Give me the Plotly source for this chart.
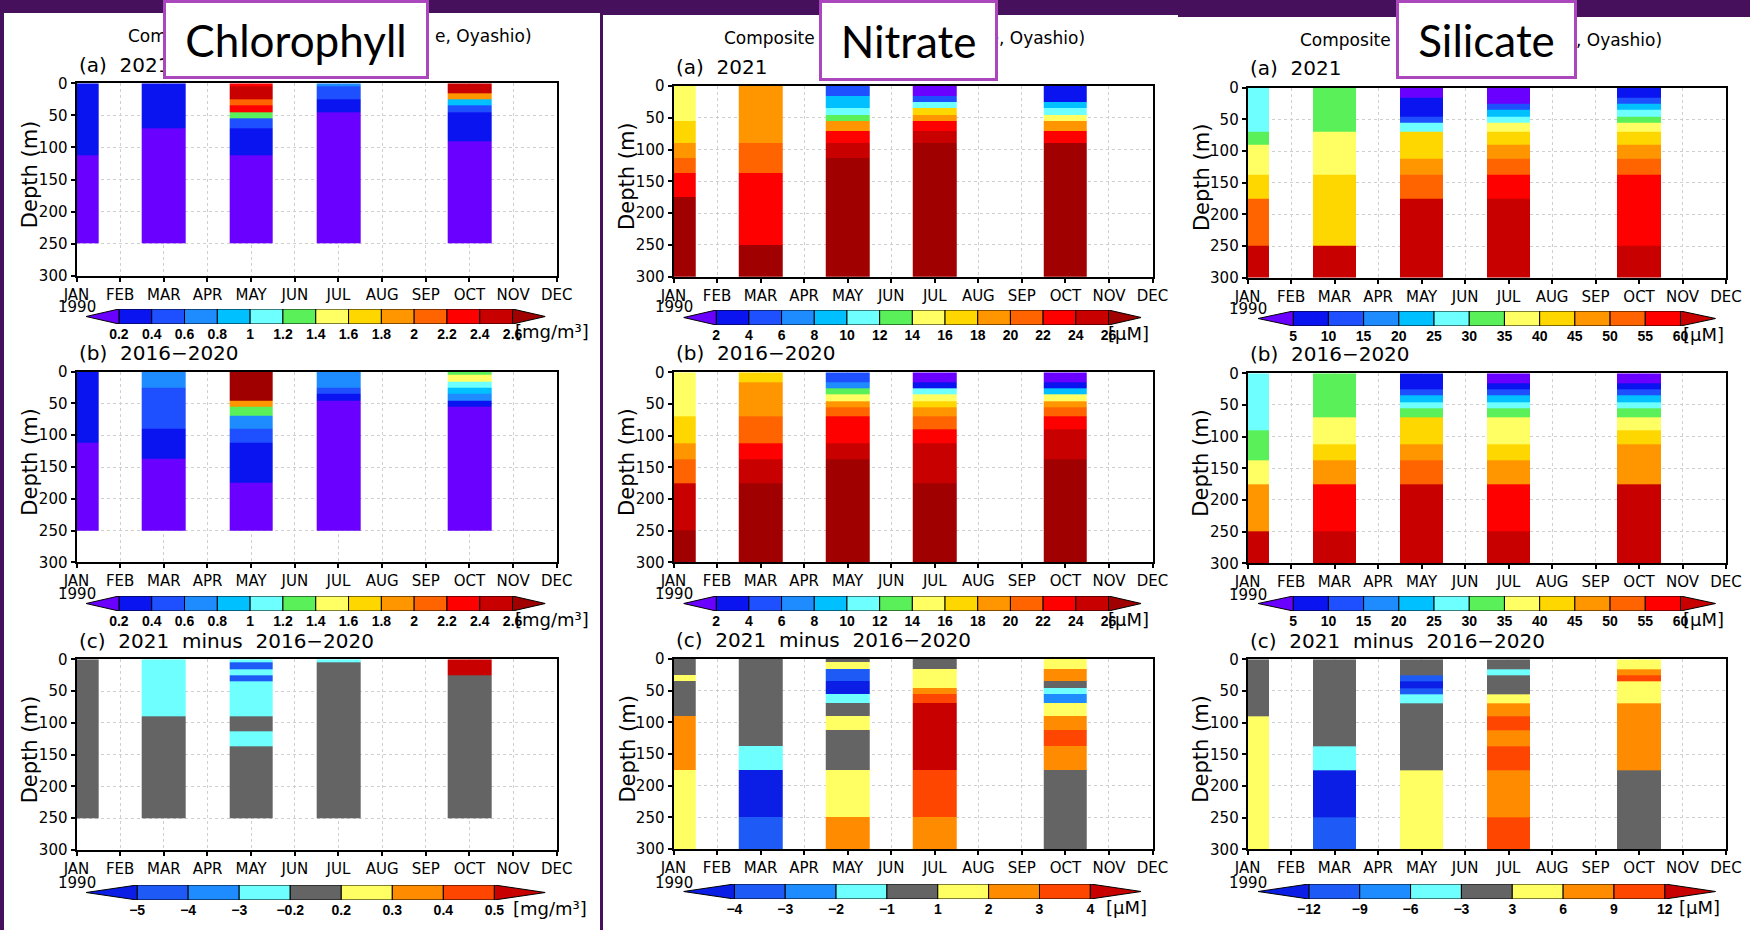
import numpy as np
import plotly.graph_objects as go

W, H = 1750, 930

# ---------------- data ----------------
MONTHS = ["JAN", "FEB", "MAR", "APR", "MAY", "JUN", "JUL", "AUG", "SEP", "OCT", "NOV", "DEC"]
OBS_MONTHS = [0, 2, 4, 6, 9]          # JAN, MAR, MAY, JUL, OCT
DEPTH_EDGES = [0, 5, 15, 25, 35, 45, 55, 70, 90, 112.5, 137.5, 175, 250, 300]
DEPTH_TICKS = [0, 50, 100, 150, 200, 250, 300]

CHL_LEVELS = [0.2, 0.4, 0.6, 0.8, 1.0, 1.2, 1.4, 1.6, 1.8, 2.0, 2.2, 2.4, 2.6]
NO3_LEVELS = [2, 4, 6, 8, 10, 12, 14, 16, 18, 20, 22, 24, 26]
SI_LEVELS = [5, 10, 15, 20, 25, 30, 35, 40, 45, 50, 55, 60]
CHL_DIFF_LEVELS = [-5, -4, -3, -0.2, 0.2, 0.3, 0.4, 0.5]
NO3_DIFF_LEVELS = [-4, -3, -2, -1, 1, 2, 3, 4]
SI_DIFF_LEVELS = [-12, -9, -6, -3, 3, 6, 9, 12]

N = None
# rows: JAN, MAR, MAY, JUL, OCT ; columns: depth layers (top -> bottom)
chl_2021 = [
    [0.3, 0.3, 0.3, 0.3, 0.3, 0.3, 0.3, 0.3, 0.3, 0.1, 0.1, 0.1, N],
    [0.3, 0.3, 0.3, 0.3, 0.3, 0.3, 0.3, 0.1, 0.1, 0.1, 0.1, 0.1, N],
    [2.3, 2.5, 2.5, 2.1, 2.3, 1.3, 0.5, 0.3, 0.3, 0.1, 0.1, 0.1, N],
    [0.7, 0.5, 0.5, 0.3, 0.3, 0.1, 0.1, 0.1, 0.1, 0.1, 0.1, 0.1, N],
    [2.5, 2.5, 1.9, 0.9, 0.5, 0.3, 0.3, 0.3, 0.1, 0.1, 0.1, 0.1, N],
]
chl_clim = [
    [0.3, 0.3, 0.3, 0.3, 0.3, 0.3, 0.3, 0.3, 0.3, 0.1, 0.1, 0.1, N],
    [0.7, 0.7, 0.7, 0.5, 0.5, 0.5, 0.5, 0.5, 0.3, 0.3, 0.1, 0.1, N],
    [2.8, 2.8, 2.8, 2.8, 2.8, 1.9, 1.3, 0.7, 0.5, 0.3, 0.3, 0.1, N],
    [0.7, 0.7, 0.7, 0.5, 0.3, 0.1, 0.1, 0.1, 0.1, 0.1, 0.1, 0.1, N],
    [1.3, 1.5, 1.1, 0.9, 0.7, 0.3, 0.1, 0.1, 0.1, 0.1, 0.1, 0.1, N],
]
chl_diff = [
    [0.0, 0.0, 0.0, 0.0, 0.0, 0.0, 0.0, 0.0, 0.0, 0.0, 0.0, 0.0, N],
    [-1.0, -1.0, -1.0, -1.0, -1.0, -1.0, -1.0, -1.0, 0.0, 0.0, 0.0, 0.0, N],
    [-1.0, -4.5, -1.0, -4.5, -1.0, -1.0, -1.0, -1.0, 0.0, -1.0, 0.0, 0.0, N],
    [-1.0, 0.0, 0.0, 0.0, 0.0, 0.0, 0.0, 0.0, 0.0, 0.0, 0.0, 0.0, N],
    [0.6, 0.6, 0.6, 0.0, 0.0, 0.0, 0.0, 0.0, 0.0, 0.0, 0.0, 0.0, N],
]
no3_2021 = [
    [15, 15, 15, 15, 15, 15, 17, 17, 19, 21, 23, 28, 28],
    [19, 19, 19, 19, 19, 19, 19, 19, 21, 21, 23, 23, 28],
    [5, 5, 9, 9, 11, 13, 19, 23, 25, 28, 28, 28, 28],
    [1, 1, 5, 11, 17, 19, 23, 25, 28, 28, 28, 28, 28],
    [3, 3, 3, 9, 11, 15, 19, 23, 28, 28, 28, 28, 28],
]
no3_clim = [
    [15, 15, 15, 15, 15, 15, 15, 17, 17, 19, 21, 25, 28],
    [17, 17, 19, 19, 19, 19, 19, 21, 21, 23, 25, 28, 28],
    [5, 5, 7, 13, 15, 19, 21, 23, 23, 25, 28, 28, 28],
    [1, 1, 3, 11, 15, 17, 19, 21, 23, 25, 25, 28, 28],
    [1, 1, 3, 9, 15, 19, 21, 23, 25, 25, 28, 28, 28],
]
no3_diff = [
    [0, 0, 0, 1.5, 0, 0, 0, 0, 2.5, 2.5, 2.5, 1.5, 1.5],
    [0, 0, 0, 0, 0, 0, 0, 0, 0, 0, -1.5, -4.5, -3.5],
    [0, 1.5, -3.5, -3.5, -4.5, -4.5, -1.5, 0, 1.5, 0, 0, 1.5, 2.5],
    [0, 0, 1.5, 1.5, 1.5, 2.5, 3.5, 4.5, 4.5, 4.5, 4.5, 3.5, 2.5],
    [1.5, 1.5, 2.5, 2.5, 0, -1.5, -2.5, 1.5, 2.5, 3.5, 2.5, 0, 0],
]
si_2021 = [
    [27.5, 27.5, 27.5, 27.5, 27.5, 27.5, 27.5, 32.5, 37.5, 37.5, 42.5, 52.5, 62.5],
    [32.5, 32.5, 32.5, 32.5, 32.5, 32.5, 32.5, 37.5, 37.5, 37.5, 42.5, 42.5, 62.5],
    [2.5, 2.5, 7.5, 7.5, 7.5, 12.5, 27.5, 42.5, 42.5, 47.5, 52.5, 62.5, 62.5],
    [2.5, 2.5, 2.5, 12.5, 22.5, 27.5, 37.5, 42.5, 47.5, 52.5, 57.5, 62.5, 62.5],
    [7.5, 7.5, 12.5, 22.5, 27.5, 32.5, 37.5, 42.5, 47.5, 52.5, 57.5, 57.5, 62.5],
]
si_clim = [
    [27.5, 27.5, 27.5, 27.5, 27.5, 27.5, 27.5, 27.5, 32.5, 32.5, 37.5, 47.5, 62.5],
    [32.5, 32.5, 32.5, 32.5, 32.5, 32.5, 32.5, 37.5, 37.5, 42.5, 47.5, 57.5, 62.5],
    [7.5, 7.5, 7.5, 12.5, 22.5, 27.5, 32.5, 42.5, 42.5, 47.5, 52.5, 62.5, 62.5],
    [2.5, 2.5, 7.5, 12.5, 22.5, 27.5, 32.5, 37.5, 37.5, 42.5, 47.5, 57.5, 62.5],
    [2.5, 2.5, 7.5, 12.5, 22.5, 27.5, 32.5, 37.5, 42.5, 47.5, 47.5, 62.5, 62.5],
]
si_diff = [
    [0, 0, 0, 0, 0, 0, 0, 0, 4.5, 4.5, 4.5, 4.5, 4.5],
    [0, 0, 0, 0, 0, 0, 0, 0, 0, 0, -4.5, -13, -10.5],
    [0, 0, 0, -10.5, -13, -10.5, -4.5, 0, 0, 0, 0, 4.5, 4.5],
    [0, 0, -4.5, 0, 0, 0, 4.5, 7.5, 10.5, 7.5, 10.5, 7.5, 10.5],
    [4.5, 4.5, 7.5, 10.5, 4.5, 4.5, 4.5, 7.5, 7.5, 7.5, 7.5, 0, 0],
]

# ---------------- styles ----------------
RAINBOW = ["#6a00ff", "#0a14f0", "#1e50ff", "#1e8cff", "#00c0ff", "#6effff", "#5af05a",
           "#ffff64", "#ffd700", "#ff9600", "#ff6400", "#ff0000", "#c80000", "#a00000"]
SI_RAINBOW = RAINBOW[:12] + ["#c80000"]
DIFF = ["#0a1ee6", "#1e5af5", "#1e8cff", "#6effff", "#646464", "#ffff64", "#ff8c00", "#ff4600", "#c80000"]

PANELS = [
    # (col, row, values, levels, palette, title, unit)
    (0, 0, chl_2021, CHL_LEVELS, RAINBOW, "(a)\u00a0\u00a02021", "[mg/m\u00b3]"),
    (0, 1, chl_clim, CHL_LEVELS, RAINBOW, "(b)\u00a0\u00a02016\u22122020", "[mg/m\u00b3]"),
    (0, 2, chl_diff, CHL_DIFF_LEVELS, DIFF, "(c)\u00a0\u00a02021\u00a0\u00a0minus\u00a0\u00a02016\u22122020", "[mg/m\u00b3]"),
    (1, 0, no3_2021, NO3_LEVELS, RAINBOW, "(a)\u00a0\u00a02021", "[\u03bcM]"),
    (1, 1, no3_clim, NO3_LEVELS, RAINBOW, "(b)\u00a0\u00a02016\u22122020", "[\u03bcM]"),
    (1, 2, no3_diff, NO3_DIFF_LEVELS, DIFF, "(c)\u00a0\u00a02021\u00a0\u00a0minus\u00a0\u00a02016\u22122020", "[\u03bcM]"),
    (2, 0, si_2021, SI_LEVELS, SI_RAINBOW, "(a)\u00a0\u00a02021", "[\u03bcM]"),
    (2, 1, si_clim, SI_LEVELS, SI_RAINBOW, "(b)\u00a0\u00a02016\u22122020", "[\u03bcM]"),
    (2, 2, si_diff, SI_DIFF_LEVELS, DIFF, "(c)\u00a0\u00a02021\u00a0\u00a0minus\u00a0\u00a02016\u22122020", "[\u03bcM]"),
]

# pixel geometry
COL_X = [(76.5, 556.8), (673.5, 1152.5), (1247.7, 1726.0)]
ROW_Y = [[(83.3, 275.7), (371.7, 562.3), (659.3, 850.0)],
         [(86.0, 276.7), (372.3, 562.3), (659.0, 849.0)],
         [(87.7, 277.7), (373.3, 563.3), (659.3, 849.3)]]
CB_X = [(86.1, 545.4), (683.5, 1141.2), (1258.0, 1715.7)]
CB_TOP = [[309, 596, 885], [310, 596, 884], [311, 596, 884]]
CB_H = 15
UNIT_X = [[513, 513, 511], [1106, 1106, 1103.5], [1681, 1681, 1677]]
DEPTH_LBL_X = [29.7, 627.6, 1201.4]
TITLE_Y = [[65, 352.7, 640.7], [66.7, 353.3, 640.0], [68.3, 354.0, 640.7]]
YEAR_Y = [[307, 594, 883], [307, 594, 883], [309, 595, 883]]

GRADS = "DejaVu Sans"


def fmt(v):
    return f"{v:g}".replace("-", "\u2212")


fig = go.Figure()
layout = {}
anns = []


def ann(text, x, y, size, xanchor="center", yanchor="middle", family=GRADS, **kw):
    anns.append(dict(text=text, x=x / W, y=1 - y / H, xref="paper", yref="paper",
                     xanchor=xanchor, yanchor=yanchor, showarrow=False,
                     font=dict(family=family, size=size, color="black"), **kw))


for k, (col, row, vals, levels, pal, title, unit) in enumerate(PANELS):
    ai = k + 1
    ci = k + 10
    xa = "x" if ai == 1 else f"x{ai}"
    ya = "y" if ai == 1 else f"y{ai}"
    xkey = "xaxis" if ai == 1 else f"xaxis{ai}"
    ykey = "yaxis" if ai == 1 else f"yaxis{ai}"

    ncol = len(levels) + 1
    z = np.full((len(DEPTH_EDGES) - 1, len(MONTHS)), np.nan)
    for m, prof in zip(OBS_MONTHS, vals):
        for j, v in enumerate(prof):
            if v is not None:
                z[j, m] = np.digitize(v, levels) + 0.5
    cs = []
    for i, c in enumerate(pal):
        cs += [[i / ncol, c], [(i + 1) / ncol, c]]
    fig.add_trace(go.Heatmap(x=np.arange(-0.5, 12, 1), y=DEPTH_EDGES, z=z, colorscale=cs,
                             zmin=0, zmax=ncol, showscale=False, hoverinfo="skip",
                             xaxis=xa, yaxis=ya))
    x0, x1 = COL_X[col]
    y0, y1 = ROW_Y[col][row]
    tickfont = dict(family=GRADS, size=15, color="black")
    layout[xkey] = dict(domain=[x0 / W, x1 / W], range=[0, 11], tickvals=list(range(12)),
                        ticktext=MONTHS, ticks="outside", ticklen=4, tickwidth=1.5,
                        tickcolor="black", showline=True, linewidth=2, linecolor="black",
                        mirror=True, showgrid=True, gridcolor="#cfcfcf", griddash="dot",
                        gridwidth=1, zeroline=False, tickfont=tickfont, anchor=ya,
                        fixedrange=True)
    layout[ykey] = dict(domain=[1 - y1 / H, 1 - y0 / H], range=[300, 0], tickvals=DEPTH_TICKS,
                        ticks="outside", ticklen=4, tickwidth=1.5, tickcolor="black",
                        showline=True, linewidth=2, linecolor="black", mirror=True,
                        showgrid=True, gridcolor="#cfcfcf", griddash="dot", gridwidth=1,
                        zeroline=False, tickfont=tickfont, anchor=xa, fixedrange=True)

    # ---- colour bar ----
    cxa, cya = f"x{ci}", f"y{ci}"
    nbox = len(levels) - 1
    fig.add_trace(go.Bar(x=np.arange(nbox) + 0.5, y=np.ones(nbox), width=1,
                         marker=dict(color=pal[1:-1], line=dict(color="black", width=1)),
                         hoverinfo="skip", xaxis=cxa, yaxis=cya))
    fig.add_trace(go.Scatter(x=[0, -1, 0, 0], y=[0, 0.5, 1, 0], mode="lines", fill="toself",
                             fillcolor=pal[0], line=dict(color="black", width=1),
                             hoverinfo="skip", xaxis=cxa, yaxis=cya))
    fig.add_trace(go.Scatter(x=[nbox, nbox + 1, nbox, nbox], y=[0, 0.5, 1, 0], mode="lines",
                             fill="toself", fillcolor=pal[-1], line=dict(color="black", width=1),
                             hoverinfo="skip", xaxis=cxa, yaxis=cya))
    bx0, bx1 = CB_X[col]
    top = CB_TOP[col][row]
    layout[f"xaxis{ci}"] = dict(domain=[bx0 / W, bx1 / W], range=[-1, nbox + 1],
                                tickvals=list(range(nbox + 1)), ticktext=[fmt(v) for v in levels],
                                ticks="", showgrid=False, zeroline=False, showline=False,
                                tickfont=dict(family="Liberation Sans", size=14, color="black",
                                              weight="bold"),
                                anchor=cya, fixedrange=True)
    layout[f"yaxis{ci}"] = dict(domain=[1 - (top + CB_H) / H, 1 - top / H], range=[0, 1],
                                visible=False, anchor=cxa, fixedrange=True)

    # ---- texts ----
    ann(title, x0, TITLE_Y[col][row], 20, xanchor="left")
    ann("1990", x0, YEAR_Y[col][row], 15)
    ann("Depth\u00a0(m)", DEPTH_LBL_X[col], (y0 + y1) / 2 - 5, 21, textangle=-90)
    ann(unit, UNIT_X[col][row], top + CB_H + 8, 18, xanchor="left")

# composite titles (partly hidden behind the label boxes)
ann("Composite", 126, 36, 17, xanchor="left")
ann("e,\u00a0Oyashio)", 534, 36, 17, xanchor="right")
ann("Composite", 721.7, 38.3, 17, xanchor="left")
ann("ine,\u00a0Oyashio)", 1086.6, 38.3, 17, xanchor="right")
ann("Composite", 1297.6, 40, 17, xanchor="left")
ann("ine,\u00a0Oyashio)", 1664, 40, 17, xanchor="right")

# variable label boxes
BOX = "#ab47bc"
ann("Chlorophyll", 295.6, 39.5, 44, family="Lato", bgcolor="white", bordercolor=BOX,
    borderwidth=3, borderpad=0, width=260, height=73)
ann("Nitrate", 908.0, 40.5, 44, family="Lato", bgcolor="white", bordercolor=BOX,
    borderwidth=3, borderpad=0, width=173, height=75)
ann("Silicate", 1486.7, 39.5, 44, family="Lato", bgcolor="white", bordercolor=BOX,
    borderwidth=3, borderpad=0, width=175, height=73)

shapes = [
    dict(type="rect", xref="paper", yref="paper", x0=4 / W, x1=600 / W, y0=0, y1=1 - 13 / H,
         fillcolor="white", line=dict(width=0), layer="below"),
    dict(type="rect", xref="paper", yref="paper", x0=603 / W, x1=1178 / W, y0=0, y1=1 - 15 / H,
         fillcolor="white", line=dict(width=0), layer="below"),
    dict(type="rect", xref="paper", yref="paper", x0=1176 / W, x1=1, y0=0, y1=1 - 17 / H,
         fillcolor="white", line=dict(width=0), layer="below"),
]

fig.update_layout(**layout)
fig.update_layout(width=W, height=H, autosize=False,
                  margin=dict(l=0, r=0, t=0, b=0, autoexpand=False),
                  paper_bgcolor="#46105c", plot_bgcolor="white", showlegend=False,
                  annotations=anns, shapes=shapes, hovermode=False)

fig.write_html("out.html", config={"displayModeBar": False},
               post_script="document.body.style.margin='0px';"
                           "document.body.style.overflow='hidden';")
